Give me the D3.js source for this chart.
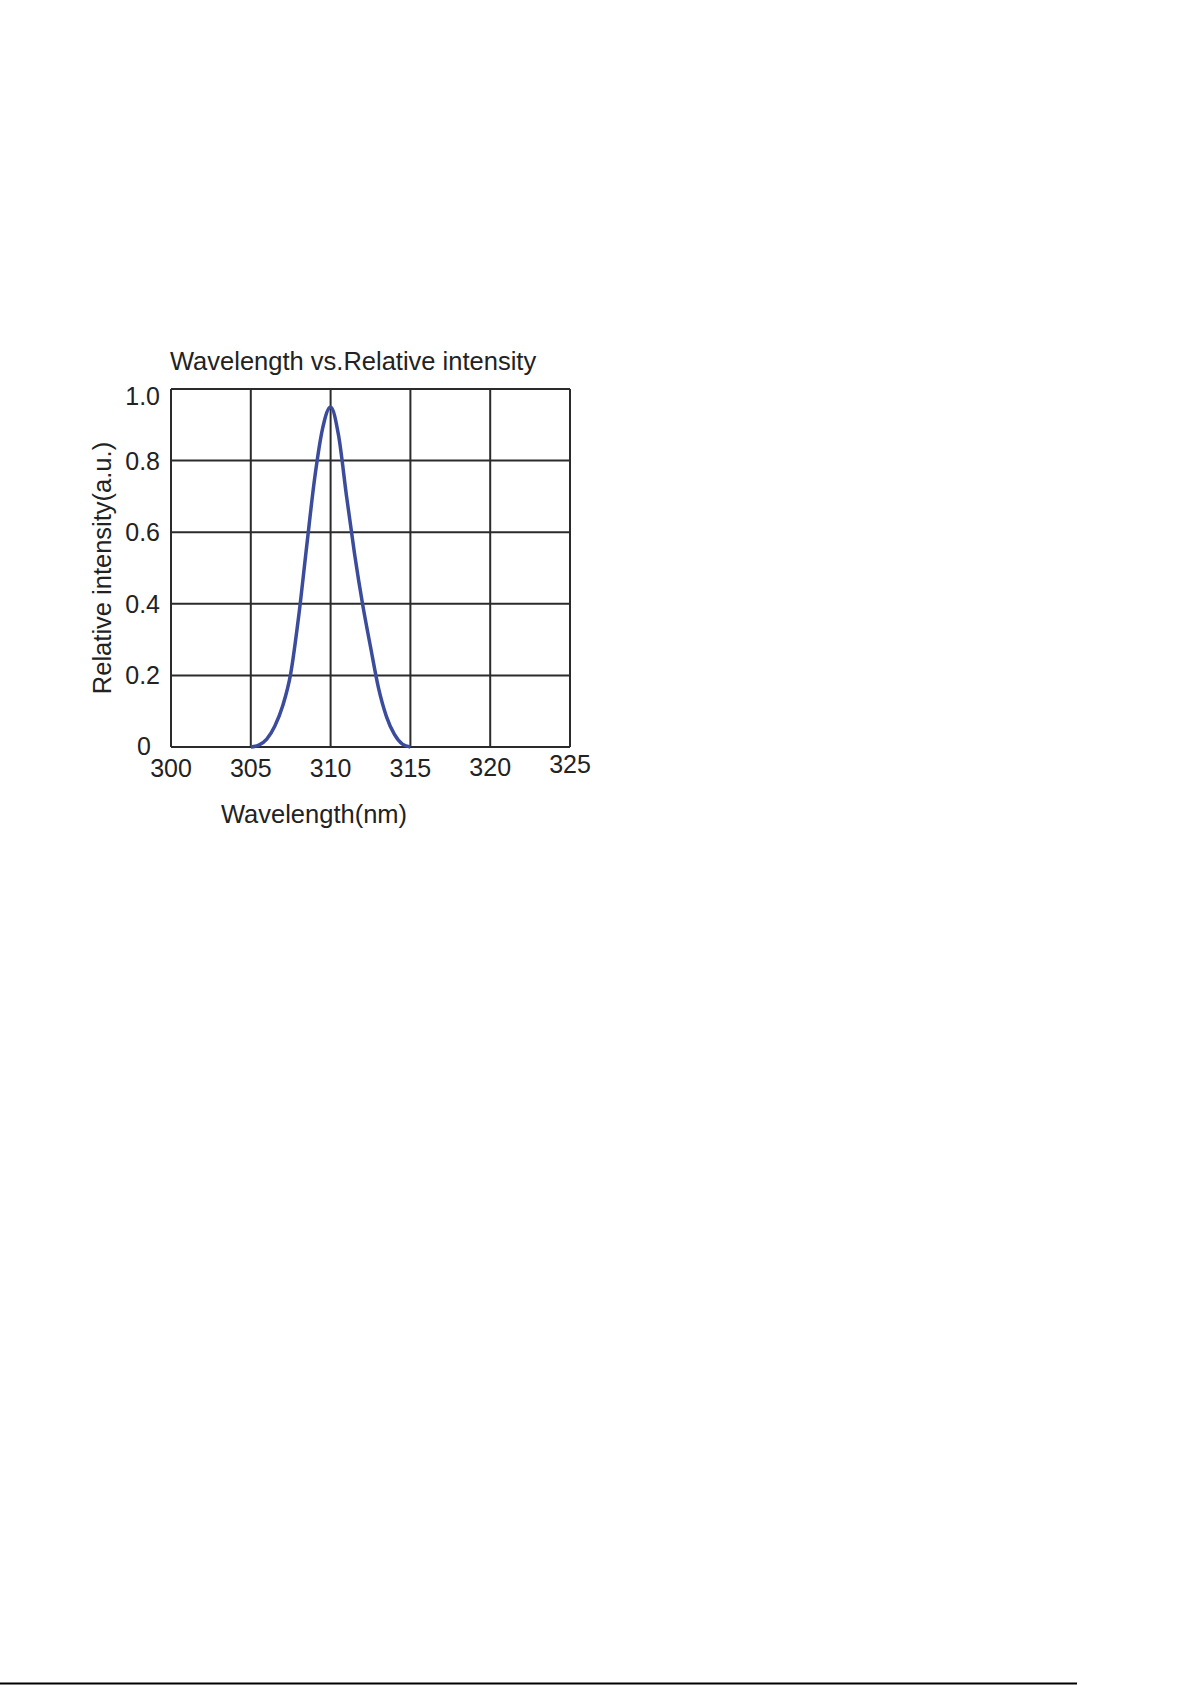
<!DOCTYPE html>
<html>
<head>
<meta charset="utf-8">
<script src="https://cdn.jsdelivr.net/npm/d3@7"></script>
<style>
  html, body { margin: 0; padding: 0; background: #fff; }
  svg text { font-family: "Liberation Sans", Arial, sans-serif; fill: #222; }
</style>
</head>
<body>
<div id="chart"></div>
<script>
// data
const wavelength = [305, 305.5, 306, 306.5, 307, 307.5, 308, 308.5, 309, 309.5, 310,
                    310.5, 311, 311.5, 312, 312.5, 313, 313.5, 314, 314.5, 315];
const intensity = [0, 0.005, 0.022, 0.058, 0.115, 0.205, 0.365, 0.56, 0.75, 0.89, 0.95,
                   0.87, 0.70, 0.54, 0.40, 0.28, 0.165, 0.085, 0.035, 0.008, 0];
const xTicks = [300, 305, 310, 315, 320, 325];
const yTicks = [0, 0.2, 0.4, 0.6, 0.8, 1.0];
const yTickLabels = ["0", "0.2", "0.4", "0.6", "0.8", "1.0"];

const W = 1192, H = 1685;
const margin = { left: 171, top: 389 };
const width = 399, height = 358;

const svg = d3.select("#chart")
  .append("svg")
  .attr("width", W)
  .attr("height", H);

svg.append("rect").attr("width", W).attr("height", H).attr("fill", "#fff");

const g = svg.append("g")
  .attr("transform", `translate(${margin.left},${margin.top})`);

const x = d3.scaleLinear().domain([300, 325]).range([0, width]);
const y = d3.scaleLinear().domain([0, 1]).range([height, 0]);

// grid lines
g.selectAll(".vgrid")
  .data(xTicks)
  .enter()
  .append("line")
  .attr("x1", d => x(d)).attr("x2", d => x(d))
  .attr("y1", 0).attr("y2", height)
  .attr("stroke", "#2b2b2b")
  .attr("stroke-width", 2);

g.selectAll(".hgrid")
  .data(yTicks)
  .enter()
  .append("line")
  .attr("x1", 0).attr("x2", width)
  .attr("y1", d => y(d)).attr("y2", d => y(d))
  .attr("stroke", "#2b2b2b")
  .attr("stroke-width", 2);

// x tick labels
g.selectAll(".xlab")
  .data(xTicks)
  .enter()
  .append("text")
  .attr("x", d => x(d))
  .attr("y", d => height + (d === 325 ? 26 : d === 320 ? 29 : 30))
  .attr("text-anchor", "middle")
  .style("font-size", "25px")
  .text(d => d);

// y tick labels
g.selectAll(".ylab")
  .data(yTicks)
  .enter()
  .append("text")
  .attr("x", d => d === 0 ? -20 : -11)
  .attr("y", d => y(d) + (d === 1 ? 16 : d === 0 ? 8 : 9))
  .attr("text-anchor", "end")
  .style("font-size", "25px")
  .text((d, i) => yTickLabels[i]);

// curve
const line = d3.line()
  .x((d, i) => x(wavelength[i]))
  .y(d => y(d))
  .curve(d3.curveMonotoneX);

g.append("path")
  .attr("d", line(intensity))
  .attr("fill", "none")
  .attr("stroke", "#3b4c9c")
  .attr("stroke-width", 3.5)
  .attr("stroke-linejoin", "round");

// title
g.append("text")
  .attr("x", -1)
  .attr("y", -19)
  .style("font-size", "25.5px")
  .text("Wavelength vs.Relative intensity");

// axis titles
g.append("text")
  .attr("x", 143)
  .attr("y", height + 76)
  .attr("text-anchor", "middle")
  .style("font-size", "25.5px")
  .text("Wavelength(nm)");

g.append("text")
  .attr("transform", `translate(-60,${height / 2}) rotate(-90)`)
  .attr("text-anchor", "middle")
  .style("font-size", "25.5px")
  .text("Relative intensity(a.u.)");

// page rule at the bottom
svg.append("line")
  .attr("x1", 0).attr("x2", 1077)
  .attr("y1", H - 1.5).attr("y2", H - 1.5)
  .attr("stroke", "#000")
  .attr("stroke-width", 2);
</script>
</body>
</html>
